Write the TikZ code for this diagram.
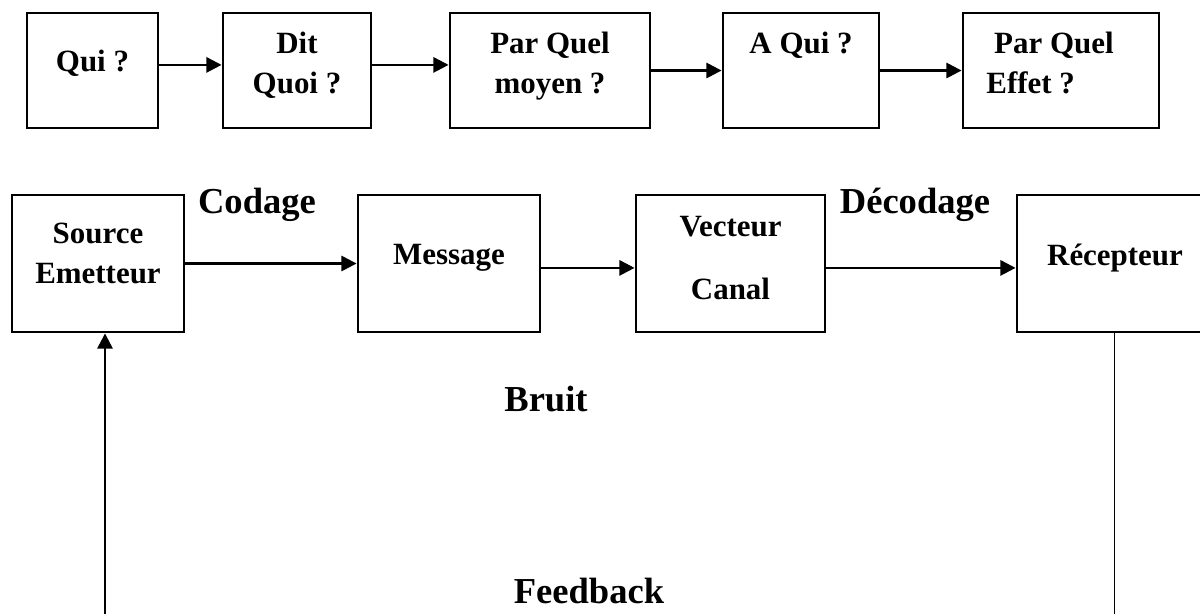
\documentclass[tikz,border=0pt]{standalone}
\usepackage{fontspec}
\setmainfont{Liberation Serif}
\usetikzlibrary{arrows.meta}

\begin{document}
\begin{tikzpicture}[x=0.025cm, y=-0.025cm, >={Triangle[length=0.38cm,width=0.38cm]},
    font=\fontsize{22}{28.5}\selectfont\bfseries,
    boite/.style={draw, line width=2pt, align=center, inner sep=0pt},
    haut/.style={boite, minimum height=2.875cm},
    bas/.style={boite, minimum height=3.425cm},
    fleche/.style={->, line width=1.7pt},
    etiquette/.style={font=\fontsize{26}{30}\selectfont\bfseries}]
  \useasboundingbox (0,0) rectangle (1200,614);
  \clip (0,0) rectangle (1200,614);

  % Les cinq questions
  \node[haut, minimum width=3.275cm, text depth=0.5cm] (qui) at (92.5,70.5) {Qui ?};
  \node[haut, minimum width=3.7cm, text depth=0.4cm] (dit) at (297,70.5) {Dit\\Quoi ?};
  \node[haut, minimum width=5cm, text depth=0.4cm] (moyen) at (550,70.5) {Par Quel\\moyen ?};
  \node[haut, minimum width=3.9cm, text depth=1.4cm] (aqui) at (801,70.5) {A Qui ?};
  \node[haut, minimum width=4.9cm, text depth=0.4cm, align=left] (effet) at (1061,70.5) {\ Par Quel\hspace*{0.55cm}\\Effet ?};

  \draw[fleche] ([yshift=0.14cm]qui.east) -- ([yshift=0.14cm]dit.west);
  \draw[fleche] ([yshift=0.14cm]dit.east) -- ([yshift=0.14cm]moyen.west);
  \draw[fleche] (moyen.east) -- (aqui.west);
  \draw[fleche] (aqui.east) -- (effet.west);

  % Chaine de communication
  \node[bas, minimum width=4.3cm, text depth=0.5cm] (source) at (98,263.5) {Source\\Emetteur};
  \node[bas, minimum width=4.55cm, text depth=0.45cm] (message) at (449,263.5) {Message};
  \node[bas, minimum width=4.725cm, text depth=0.3cm] (canal) at (730.5,263.5) {Vecteur\\[0.575cm]Canal};
  \node[bas, minimum width=4.9cm, text depth=0.45cm] (recepteur) at (1115,263.5) {Récepteur};

  \draw[fleche] (source.east) -- (message.west);
  \draw[fleche] ([yshift=-0.11cm]message.east) -- ([yshift=-0.11cm]canal.west);
  \draw[fleche] ([yshift=-0.11cm]canal.east) -- ([yshift=-0.11cm]recepteur.west);

  \node[etiquette] (codage) at (257,205) {Codage};
  \node[etiquette] (decodage) at (915,205) {Décodage};
  \node[etiquette] (bruit) at (546,399) {Bruit};
  \node[etiquette] (feedback) at (589,591) {Feedback};

  % Retour
  \coordinate (retg) at (105,614);
  \coordinate (retd) at (1114,614);
  \draw[fleche] (retg) -- (retg |- source.south);
  \draw[line width=0.55pt] (retd |- recepteur.south) -- (retd);
\end{tikzpicture}
\end{document}
